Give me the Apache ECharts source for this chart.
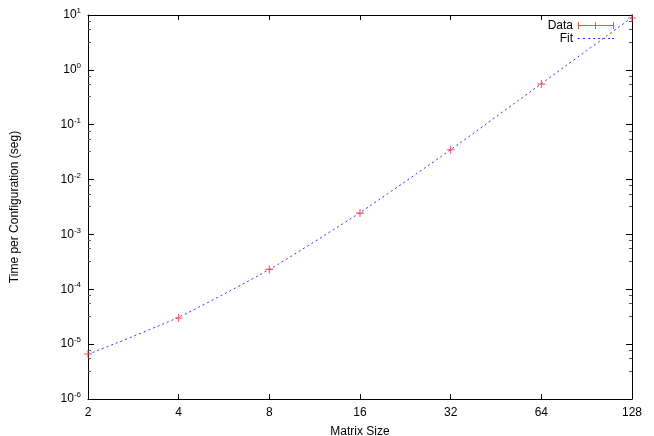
<!DOCTYPE html>
<html>
<head>
<meta charset="utf-8">
<script src="https://cdn.jsdelivr.net/npm/echarts@6/dist/echarts.min.js"></script>
<style>
  html, body { margin: 0; padding: 0; background: #fff; }
</style>
</head>
<body>
<div id="myChart" style="width: 654px; height: 436px"></div>
<script>
// matrix sizes (x), measured time per configuration and fitted curve (y)
const matrixSizes = [2, 4, 8, 16, 32, 64, 128];
const timeData = [6.6e-6, 3.0e-5, 2.3e-4, 2.45e-3, 3.5e-2, 0.55, 8.8];
const timeFit = [6.5e-6, 3.1e-5, 2.3e-4, 2.5e-3, 3.5e-2, 0.56, 9.0];

const FONT = '"Liberation Sans", Arial, sans-serif';
const plusIcon = 'path://M0,3L3,3L3,0L4,0L4,3L7,3L7,4L4,4L4,7L3,7L3,4L0,4Z';
// error-bar style legend sample: bar with end caps and a cross in the middle
const dataIcon = 'path://M0,0L1,0L1,3L17,3L17,0L18,0L18,3L35,3L35,0L36,0L36,7L35,7L35,4L18,4L18,7L17,7L17,4L1,4L1,7L0,7Z';
// dotted line sample for the fit
const fitIcon = 'path://M0,0L36,0L36,0.01L0,0.01Z' +
  'M0,3L2,3L2,4L0,4Z M5,3L7,3L7,4L5,4Z M10,3L12,3L12,4L10,4Z M15,3L17,3L17,4L15,4Z' +
  'M20,3L22,3L22,4L20,4Z M25,3L27,3L27,4L25,4Z M30,3L32,3L32,4L30,4Z M34,3L36,3L36,4L34,4Z' +
  'M0,7L36,7L36,7.01L0,7.01Z';

function pair(xs, ys) {
  return xs.map((x, i) => [x, ys[i]]);
}

function powerLabel(val) {
  const exp = Math.round(Math.log10(val));
  return '{b|10}{s|' + exp + '}';
}

const chart = echarts.init(document.getElementById('myChart'));

const options = {
  animation: false,
  textStyle: { fontFamily: FONT },
  grid: { left: 88, right: 22, top: 15, bottom: 37, outerBoundsMode: 'none', containLabel: false },
  legend: {
    right: 35,
    top: 14,
    orient: 'vertical',
    align: 'right',
    itemWidth: 36,
    itemHeight: 7,
    itemGap: 0,
    textStyle: { fontSize: 12, lineHeight: 13, color: '#000', fontFamily: FONT },
    data: [
      { name: 'Data', icon: dataIcon, itemStyle: { color: '#ff2020', borderWidth: 0 } },
      { name: 'Fit', icon: fitIcon, itemStyle: { color: '#3030ff', borderWidth: 0 } }
    ]
  },
  xAxis: [
    {
      type: 'log',
      logBase: 2,
      min: 2,
      max: 128,
      interval: 1,
      name: 'Matrix Size',
      nameLocation: 'middle',
      nameGap: 27,
      nameTextStyle: { fontSize: 12, color: '#000', fontFamily: FONT },
      axisLine: { lineStyle: { color: '#000', width: 1 } },
      axisTick: { inside: true, length: 5, lineStyle: { color: '#000' } },
      axisLabel: { fontSize: 12, color: '#000', margin: 8, fontFamily: FONT },
      splitLine: { show: false }
    },
    {
      type: 'log',
      logBase: 2,
      min: 2,
      max: 128,
      interval: 1,
      position: 'top',
      axisLine: { lineStyle: { color: '#000', width: 1 } },
      axisTick: { inside: true, length: 5, lineStyle: { color: '#000' } },
      axisLabel: { show: false },
      splitLine: { show: false }
    }
  ],
  yAxis: [
    {
      type: 'log',
      logBase: 10,
      min: 1e-6,
      max: 10,
      interval: 1,
      name: 'Time per Configuration (seg)',
      nameLocation: 'middle',
      nameRotate: 90,
      nameGap: 67,
      nameTextStyle: { fontSize: 12, color: '#000', fontFamily: FONT },
      axisLine: { lineStyle: { color: '#000', width: 1 } },
      axisTick: { inside: true, length: 6, lineStyle: { color: '#000' } },
      minorTick: { show: true, splitNumber: 4, length: 3, lineStyle: { color: '#555' } },
      axisLabel: {
        margin: 7,
        formatter: powerLabel,
        rich: {
          b: { fontSize: 12, color: '#000', fontFamily: FONT },
          s: { fontSize: 8, color: '#000', fontFamily: FONT, padding: [0, 0, 8, 0] }
        }
      },
      splitLine: { show: false }
    },
    {
      type: 'log',
      logBase: 10,
      min: 1e-6,
      max: 10,
      interval: 1,
      position: 'right',
      axisLine: { lineStyle: { color: '#000', width: 1 } },
      axisTick: { inside: true, length: 6, lineStyle: { color: '#000' } },
      minorTick: { show: true, splitNumber: 4, length: 3, lineStyle: { color: '#555' } },
      axisLabel: { show: false },
      splitLine: { show: false }
    }
  ],
  series: [
    {
      name: 'Fit',
      type: 'line',
      data: pair(matrixSizes, timeFit),
      smooth: 0.2,
      symbol: 'none',
      lineStyle: { color: '#3030ff', width: 1, type: [2, 3] },
      itemStyle: { color: '#3030ff' },
      z: 2
    },
    {
      name: 'Data',
      type: 'scatter',
      data: pair(matrixSizes, timeData),
      symbol: plusIcon,
      symbolSize: 8,
      itemStyle: { color: '#ff3030', borderWidth: 0 },
      z: 3
    }
  ]
};

chart.setOption(options);
</script>
</body>
</html>
